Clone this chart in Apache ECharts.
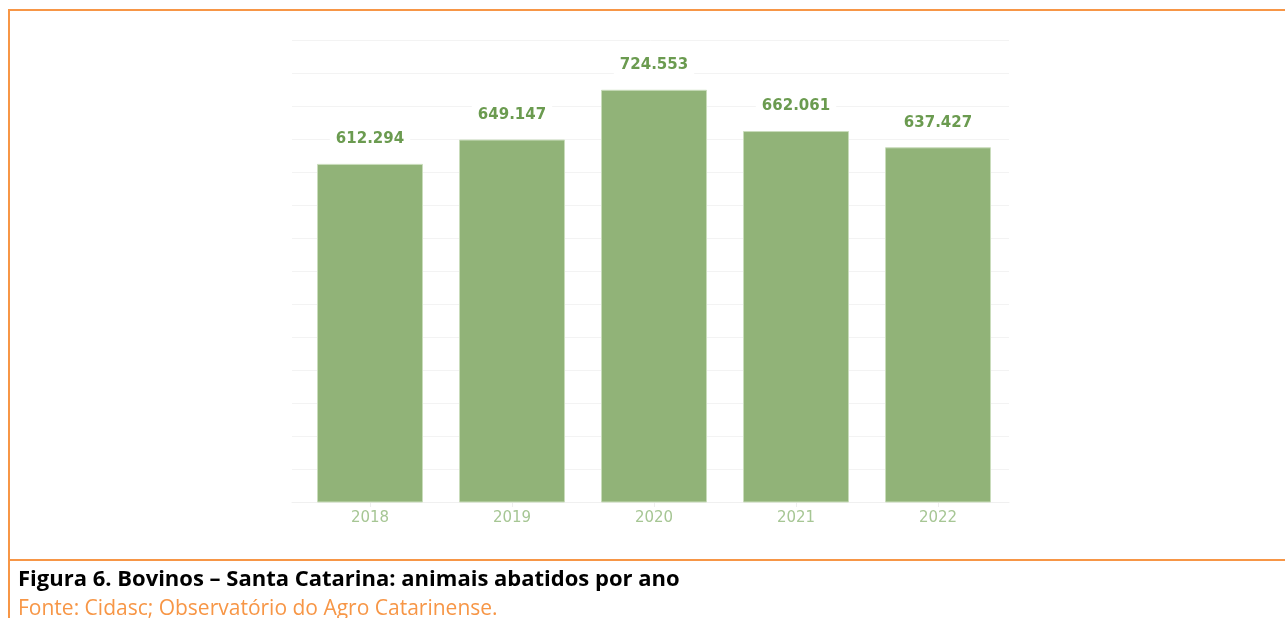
<!DOCTYPE html>
<html>
<head>
<meta charset="utf-8">
<script src="https://cdn.jsdelivr.net/npm/echarts@6/dist/echarts.min.js"></script>
<style>
html,body{margin:0;padding:0;background:#fff;}
#chart{width:1285px;height:618px;}
</style>
</head>
<body>
<div id="chart"></div>
<script>
const categories = ['2018', '2019', '2020', '2021', '2022'];
const values = [612294, 649147, 724553, 662061, 637427];
const captionTitle = 'Figura 6. Bovinos \u2013 Santa Catarina: animais abatidos por ano';
const captionSource = 'Fonte: Cidasc; Observat\u00f3rio do Agro Catarinense.';

function fmt(v) {
  return String(v).replace(/\B(?=(\d{3})+(?!\d))/g, '.');
}

const chart = echarts.init(document.getElementById('chart'), null, {renderer: 'canvas'});
chart.setOption({
  backgroundColor: '#ffffff',
  animation: false,
  grid: [
    {left: 292, right: 276, top: 40, bottom: 116, containLabel: false},
    {left: 299, right: 276, top: 40, bottom: 116, containLabel: false}
  ],
  xAxis: [
    {
      type: 'category', gridIndex: 0, data: categories, show: true,
      axisLine: {show: true, lineStyle: {color: '#f0f0f0', width: 1}},
      axisTick: {show: false}, axisLabel: {show: false}, splitLine: {show: false}
    },
    {
      type: 'category', gridIndex: 1,
      data: categories,
      axisLine: {show: false},
      axisTick: {show: true, alignWithLabel: true, length: 5, lineStyle: {color: '#eeeeee'}},
      axisLabel: {color: '#a6c694', fontFamily: 'DejaVu Sans', fontSize: 15, margin: 9}
    }
  ],
  yAxis: [
    {
      type: 'value', gridIndex: 0,
      min: 100000, max: 800000, interval: 50000,
      axisLabel: {show: false}, axisLine: {show: false}, axisTick: {show: false},
      splitLine: {show: true, lineStyle: {color: '#f3f3f3', width: 1}}
    },
    {
      type: 'value', gridIndex: 1,
      min: 100000, max: 800000, interval: 50000,
      axisLabel: {show: false}, axisLine: {show: false}, axisTick: {show: false},
      splitLine: {show: false}
    }
  ],
  series: [{
    type: 'bar',
    xAxisIndex: 1,
    yAxisIndex: 1,
    data: values,
    barWidth: 106,
    itemStyle: {color: '#91b378', borderColor: '#c9dcbb', borderWidth: 1},
    label: {
      show: true,
      position: 'top',
      distance: 15,
      formatter: p => fmt(p.value),
      color: '#6b9b50',
      fontFamily: 'DejaVu Sans',
      fontWeight: 'bold',
      fontSize: 15,
      backgroundColor: '#ffffff',
      padding: [2, 6]
    }
  }],
  graphic: [
    {type: 'line', shape: {x1: 9, y1: 10, x2: 1285, y2: 10}, style: {stroke: '#f79646', lineWidth: 2}},
    {type: 'line', shape: {x1: 9, y1: 9, x2: 9, y2: 618}, style: {stroke: '#f79646', lineWidth: 2}},
    {type: 'line', shape: {x1: 9, y1: 560, x2: 1285, y2: 560}, style: {stroke: '#f79646', lineWidth: 2}},
    {type: 'text', left: 18, top: 569, style: {text: captionTitle, fill: '#000000', font: 'bold 22px "Open Sans"'}},
    {type: 'text', left: 18, top: 599, style: {text: captionSource, fill: '#f79646', font: '21px "Open Sans"'}}
  ]
});
</script>
</body>
</html>
